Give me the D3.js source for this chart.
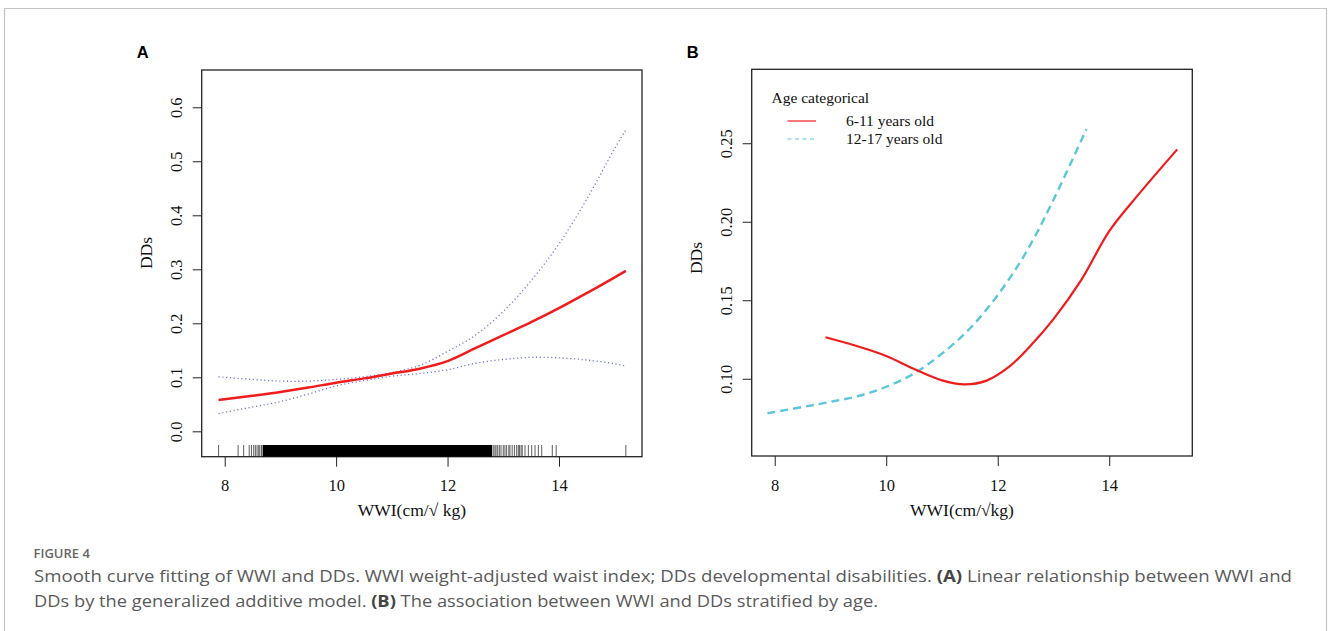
<!DOCTYPE html>
<meta charset="utf-8">
<style>
body { margin: 0; background: #fff; }
svg { display: block; }
.plot text { font-family: "Liberation Serif", "Times New Roman", serif; fill: #111; }
.plot text.panel { font-family: "Liberation Sans", Arial, sans-serif; font-weight: bold; font-size: 16.5px; fill: #000; }
.axis line { stroke: #222; stroke-width: 1; }
.box { fill: none; stroke: #222; stroke-width: 1.3; }
.caption { font-family: "Open Sans", sans-serif; fill: #5a5a5a; }
</style>
<svg width="1328" height="631"></svg>
<script src="https://d3js.org/d3.v7.min.js"></script>
<script>

// panel A: smooth fit with confidence band
var wwiA   = [7.89, 8.5, 9, 9.5, 10, 10.5, 11, 11.5, 12, 12.5, 13, 13.5, 14, 14.5, 15, 15.2];
var fitA   = [0.058, 0.066, 0.073, 0.081, 0.090, 0.098, 0.107, 0.116, 0.130, 0.154, 0.178, 0.202, 0.228, 0.256, 0.285, 0.297];
var upperA = [0.101, 0.096, 0.093, 0.093, 0.096, 0.101, 0.109, 0.122, 0.148, 0.178, 0.222, 0.279, 0.347, 0.430, 0.524, 0.558];
var lowerA = [0.033, 0.045, 0.055, 0.069, 0.084, 0.094, 0.102, 0.107, 0.114, 0.126, 0.133, 0.137, 0.136, 0.132, 0.125, 0.121];

// rug of observed WWI values (the dense middle is a solid block)
var rugDense = [[8.68, 12.80]];
var rugTicks = [7.89, 8.24, 8.34, 8.44, 8.48, 8.52, 8.55, 8.58, 8.61, 8.63, 8.66,
  12.82, 12.85, 12.87, 12.90, 12.93, 12.96, 13.00, 13.03, 13.06, 13.10, 13.12, 13.16,
  13.20, 13.24, 13.27, 13.29, 13.32, 13.34, 13.39, 13.45, 13.51, 13.57, 13.63, 13.69,
  13.88, 13.95, 15.2];

// panel B: stratified by age
var ageGroups = ["6-11 years old", "12-17 years old"];
var wwiB1 = [8.91, 9.5, 10, 10.5, 11, 11.4, 11.8, 12.2, 12.6, 13, 13.5, 14, 14.5, 15.22];
var ddsB1 = [0.1264, 0.1205, 0.1145, 0.1062, 0.0990, 0.0964, 0.0988, 0.1075, 0.1215, 0.138, 0.163, 0.194, 0.2163, 0.2461];
var wwiB2 = [7.87, 8.5, 9, 9.5, 10, 10.5, 11, 11.5, 12, 12.5, 13, 13.59];
var ddsB2 = [0.078, 0.082, 0.0853, 0.089, 0.0949, 0.1034, 0.116, 0.132, 0.1533, 0.180, 0.214, 0.259];

var xTicks = [8, 10, 12, 14];
var yTicksA = [0, 0.1, 0.2, 0.3, 0.4, 0.5, 0.6];
var yTicksB = [0.10, 0.15, 0.20, 0.25];

var svg = d3.select("svg");

// outer frame
svg.append("path")
    .attr("d", "M4.5,631V8.5H1326.5V631")
    .attr("fill", "none")
    .attr("stroke", "#c4c4c4")
    .attr("stroke-width", 1.2);

var xA = d3.scaleLinear().domain([7.587, 15.49]).range([201.7, 642]);
var yA = d3.scaleLinear().domain([-0.047, 0.669]).range([456.7, 70]);
var xB = d3.scaleLinear().domain([7.587, 15.49]).range([751.7, 1192.3]);
var yB = d3.scaleLinear().domain([0.0508, 0.2971]).range([456, 69.3]);

function frame(g, x, y, yTicks, yFmt, xLabel, panel) {
  var x0 = x.range()[0], x1 = x.range()[1], y0 = y.range()[0], y1 = y.range()[1];

  g.append("g")
      .attr("class", "axis")
      .attr("transform", "translate(0," + y0 + ")")
      .call(d3.axisBottom(x).tickValues(xTicks).tickSize(10).tickSizeOuter(0).tickFormat(d3.format("d")))
      .call(function(a) { a.select(".domain").remove(); })
    .selectAll("text")
      .attr("y", 34.5).attr("dy", null)
      .style("font-size", "16.5px");

  g.append("g")
      .attr("class", "axis")
      .attr("transform", "translate(" + x0 + ",0)")
      .call(d3.axisLeft(y).tickValues(yTicks).tickSize(9).tickSizeOuter(0).tickFormat(d3.format(yFmt)))
      .call(function(a) { a.select(".domain").remove(); })
    .selectAll("text")
      .attr("x", 0).attr("y", -20).attr("dy", null)
      .attr("text-anchor", "middle")
      .attr("transform", "rotate(-90)")
      .style("font-size", "16.5px");

  g.append("rect")
      .attr("class", "box")
      .attr("x", x0).attr("y", y1)
      .attr("width", x1 - x0).attr("height", y0 - y1);

  g.append("text")
      .attr("x", (x0 + x1) / 2 - 10)
      .attr("y", 516)
      .attr("text-anchor", "middle")
      .style("font-size", "17.5px")
      .text(xLabel);

  g.append("text")
      .attr("class", "panel")
      .attr("x", x0 - 65)
      .attr("y", 57.5)
      .text(panel);
}

var gA = svg.append("g").attr("class", "plot");
var gB = svg.append("g").attr("class", "plot");

frame(gA, xA, yA, yTicksA, ".1f", "WWI(cm/\u221A kg)", "A");
frame(gB, xB, yB, yTicksB, ".2f", "WWI(cm/\u221Akg)", "B");

gA.append("text")
    .attr("transform", "translate(151.5,253) rotate(-90)")
    .attr("text-anchor", "middle")
    .style("font-size", "17.5px")
    .text("DDs");

gB.append("text")
    .attr("transform", "translate(702,258) rotate(-90)")
    .attr("text-anchor", "middle")
    .style("font-size", "17.5px")
    .text("DDs");

// rug
gA.selectAll(".rugblock")
    .data(rugDense)
  .enter().append("rect")
    .attr("x", function(d) { return xA(d[0]); })
    .attr("width", function(d) { return xA(d[1]) - xA(d[0]); })
    .attr("y", 445)
    .attr("height", yA.range()[0] - 445)
    .attr("fill", "#000");

gA.selectAll(".rug")
    .data(rugTicks)
  .enter().append("line")
    .attr("x1", function(d) { return xA(d); })
    .attr("x2", function(d) { return xA(d); })
    .attr("y1", 445)
    .attr("y2", yA.range()[0])
    .attr("stroke", "#333")
    .attr("stroke-width", 0.8);

function series(xs, ys) {
  return xs.map(function(d, i) { return [d, ys[i]]; });
}

var lineA = d3.line()
    .x(function(d) { return xA(d[0]); })
    .y(function(d) { return yA(d[1]); })
    .curve(d3.curveCatmullRom.alpha(0.5));

[upperA, lowerA].forEach(function(band) {
  gA.append("path")
      .datum(series(wwiA, band))
      .attr("d", lineA)
      .attr("fill", "none")
      .attr("stroke", "#7474de")
      .attr("stroke-width", 1.3)
      .attr("stroke-dasharray", "1.2,2.6");
});

gA.append("path")
    .datum(series(wwiA, fitA))
    .attr("d", lineA)
    .attr("fill", "none")
    .attr("stroke", "#f01c1c")
    .attr("stroke-width", 2.5);

var lineB = d3.line()
    .x(function(d) { return xB(d[0]); })
    .y(function(d) { return yB(d[1]); })
    .curve(d3.curveCatmullRom.alpha(0.5));

gB.append("path")
    .datum(series(wwiB2, ddsB2))
    .attr("d", lineB)
    .attr("fill", "none")
    .attr("stroke", "#5cc6dc")
    .attr("stroke-width", 2.4)
    .attr("stroke-dasharray", "8,5");

gB.append("path")
    .datum(series(wwiB1, ddsB1))
    .attr("d", lineB)
    .attr("fill", "none")
    .attr("stroke", "#f01c1c")
    .attr("stroke-width", 2.2);

// legend
var legend = gB.append("g").attr("transform", "translate(771.5,0)");
legend.append("text")
    .attr("x", 0).attr("y", 103)
    .style("font-size", "15.5px")
    .text("Age categorical");

var legendStyles = [
  { color: "#f01c1c", dash: null },
  { color: "#5cc6dc", dash: "4,3.5" }
];

var item = legend.selectAll(".item")
    .data(ageGroups)
  .enter().append("g")
    .attr("transform", function(d, i) { return "translate(0," + (121 + i * 18) + ")"; });

item.append("line")
    .attr("x1", 16).attr("x2", 44.5)
    .attr("stroke", function(d, i) { return legendStyles[i].color; })
    .attr("stroke-dasharray", function(d, i) { return legendStyles[i].dash; })
    .attr("stroke-width", 1.2);

item.append("text")
    .attr("x", 74.5).attr("y", 5)
    .style("font-size", "15.5px")
    .text(function(d) { return d; });

// caption
var cap = svg.append("g").attr("class", "caption");
cap.append("text")
    .attr("x", 33.5).attr("y", 557.5)
    .style("font-size", "13px")
    .style("font-weight", 600)
    .style("fill", "#666")
    .text("FIGURE 4");

var capLines = [
  [["Smooth curve fitting of WWI and DDs. WWI weight-adjusted waist index; DDs developmental disabilities. ", 400], ["(A)", 700], [" Linear relationship between WWI and", 400]],
  [["DDs by the generalized additive model. ", 400], ["(B)", 700], [" The association between WWI and DDs stratified by age.", 400]]
];
var capWidths = [1258, 844];

capLines.forEach(function(parts, i) {
  var t = cap.append("text")
      .attr("x", 34)
      .attr("y", 582 + i * 25)
      .attr("textLength", capWidths[i])
      .attr("lengthAdjust", "spacingAndGlyphs")
      .style("font-size", "15.5px");
  parts.forEach(function(p) {
    t.append("tspan")
        .style("font-weight", p[1])
        .style("fill", p[1] > 400 ? "#444" : null)
        .text(p[0]);
  });
});

</script>
